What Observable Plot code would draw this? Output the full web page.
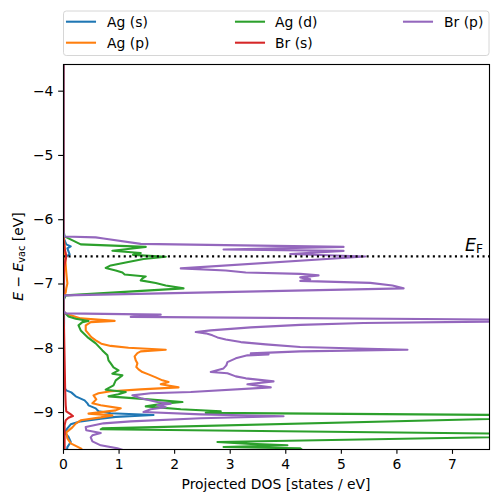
<!DOCTYPE html>
<html><head><meta charset="utf-8">
<script src="https://cdn.jsdelivr.net/npm/d3@7"></script>
<script src="https://cdn.jsdelivr.net/npm/@observablehq/plot@0.6"></script>
<style>
body{margin:0;background:#fff}
#chart{position:relative;width:498px;height:502px}
</style>
</head><body><div id="chart"></div>
<script>
// [energy (eV), projected DOS (states/eV)]
const agS = [[-3.5,0],[-6.20,0],[-6.260,0],[-6.322,0.02],[-6.384,0.05],[-6.415,0.13],[-6.446,0.07],[-6.493,0.09],[-6.540,0.11],[-6.571,0.05],[-6.633,0.02],[-6.711,0.01],[-7.100,0.01],[-7.255,0],[-7.45,0],[-7.50,0.01],[-7.60,0.01],[-8.499,0],[-8.608,0.01],[-8.655,0.05],[-8.686,0.14],[-8.748,0.22],[-8.810,0.38],[-8.857,0.43],[-8.888,0.45],[-8.935,0.58],[-8.981,0.63],[-9.012,0.85],[-9.039,1.62],[-9.067,0.94],[-9.095,0.67],[-9.137,0.31],[-9.183,0.13],[-9.246,0.07],[-9.308,0.02],[-9.381,0.09],[-9.459,0.13],[-9.537,0.07],[-9.65,0.05]];
const agP = [[-3.5,0],[-6.20,0],[-6.260,0],[-6.400,0.02],[-6.555,0.03],[-6.711,0.04],[-6.820,0.05],[-6.913,0.06],[-6.991,0.07],[-7.068,0.05],[-7.131,0.04],[-7.193,0],[-7.426,0],[-7.457,0.04],[-7.488,0.13],[-7.535,0.31],[-7.574,0.92],[-7.593,0.49],[-7.644,0.40],[-7.722,0.40],[-7.826,0.50],[-7.877,0.58],[-7.929,0.68],[-7.963,0.85],[-7.991,1.17],[-8.022,1.84],[-8.048,1.39],[-8.075,1.33],[-8.126,1.28],[-8.188,1.30],[-8.235,1.33],[-8.292,1.31],[-8.328,1.35],[-8.370,1.42],[-8.406,1.53],[-8.453,1.66],[-8.499,1.78],[-8.526,1.89],[-8.561,1.75],[-8.608,2.07],[-8.639,1.39],[-8.670,0.85],[-8.701,0.63],[-8.733,0.54],[-8.795,0.59],[-8.857,0.52],[-8.888,0.67],[-8.935,1.03],[-8.966,0.94],[-9.017,0.45],[-9.044,0.88],[-9.075,0.67],[-9.121,0.31],[-9.173,0.22],[-9.230,0.16],[-9.308,0.05],[-9.401,0.07],[-9.479,0.13],[-9.557,0.31],[-9.65,0.42]];
const agD = [[-3.5,0],[-6.166,0],[-6.260,0.02],[-6.291,0.09],[-6.337,0.20],[-6.384,0.31],[-6.423,1.48],[-6.482,0.88],[-6.519,1.39],[-6.547,1.25],[-6.575,1.84],[-6.610,1.44],[-6.664,1.12],[-6.711,0.85],[-6.750,0.76],[-6.789,0.94],[-6.820,1.06],[-6.851,1.10],[-6.882,1.48],[-6.913,1.42],[-6.944,1.39],[-6.986,1.66],[-7.022,1.84],[-7.068,2.16],[-7.177,0.04],[-7.255,0],[-7.426,0],[-7.462,0.04],[-7.504,0.09],[-7.540,0.22],[-7.577,0.45],[-7.593,0.34],[-7.644,0.27],[-7.722,0.31],[-7.826,0.43],[-7.924,0.58],[-8.033,0.70],[-8.110,0.79],[-8.188,0.81],[-8.235,0.85],[-8.297,0.90],[-8.344,0.99],[-8.395,0.88],[-8.421,1.06],[-8.499,0.94],[-8.577,0.90],[-8.644,0.76],[-8.681,1.12],[-8.717,0.99],[-8.748,0.81],[-8.779,1.30],[-8.837,2.14],[-8.857,1.84],[-8.904,1.48],[-8.950,2.11],[-8.981,2.83],[-9.005,2.56],[-9.051,10.0],[-9.246,0.70],[-9.261,0.67],[-9.347,10.0],[-9.459,2.77],[-9.487,3.37],[-9.510,4.03],[-9.537,2.88],[-9.557,4.26],[-9.65,4.4]];
const brS = [[-3.5,0],[-6.30,0],[-6.45,0.02],[-6.52,0.04],[-6.58,0.05],[-6.65,0.03],[-6.75,0.01],[-7.20,0],[-7.45,0],[-7.722,0.01],[-8.188,0.02],[-8.655,0.03],[-8.888,0.04],[-8.981,0.05],[-9.020,0.12],[-9.054,0.17],[-9.082,0.09],[-9.121,0.04],[-9.199,0.02],[-9.432,0.02],[-9.65,0.02]];
const brP = [[-3.5,0],[-6.166,0],[-6.260,0.01],[-6.275,0.58],[-6.291,0.72],[-6.376,1.39],[-6.423,5.04],[-6.462,2.88],[-6.485,5.04],[-6.532,4.08],[-6.571,5.43],[-6.757,2.11],[-6.789,2.92],[-6.820,3.28],[-6.843,4.26],[-6.866,4.59],[-6.897,4.26],[-6.928,4.44],[-6.952,4.26],[-6.983,5.52],[-7.022,5.92],[-7.068,6.12],[-7.177,0.02],[-7.255,0],[-7.426,0],[-7.457,0.04],[-7.477,1.75],[-7.512,1.21],[-7.566,9.66],[-7.608,5.40],[-7.636,4.26],[-7.675,3.37],[-7.722,2.65],[-7.748,2.38],[-7.768,2.56],[-7.799,2.68],[-7.831,2.77],[-7.862,2.92],[-7.904,3.19],[-7.939,3.64],[-7.981,4.26],[-8.022,6.19],[-8.048,4.26],[-8.079,3.37],[-8.095,3.69],[-8.110,3.31],[-8.157,3.10],[-8.215,2.95],[-8.266,2.93],[-8.313,2.88],[-8.370,2.65],[-8.390,2.95],[-8.437,3.10],[-8.468,3.28],[-8.515,3.78],[-8.561,3.31],[-8.608,3.73],[-8.681,2.29],[-8.701,1.57],[-8.733,1.24],[-8.779,1.39],[-8.837,1.69],[-8.862,1.93],[-8.888,1.69],[-8.919,1.84],[-8.950,1.57],[-8.992,1.44],[-9.028,2.47],[-9.059,3.96],[-9.090,2.47],[-9.137,1.21],[-9.168,0.72],[-9.225,0.40],[-9.277,0.41],[-9.319,0.67],[-9.355,0.52],[-9.386,0.49],[-9.448,0.52],[-9.510,0.67],[-9.557,0.97],[-9.619,1.21]];

const seriesNames = ["Ag (s)", "Ag (p)", "Ag (d)", "Br (s)", "Br (p)"];
const seriesColors = ["#1f77b4", "#ff7f0e", "#2ca02c", "#d62728", "#9467bd"];
const seriesData = [agS, agP, agD, brS, brP];
const EF = -6.57;
const xTicks = [0, 1, 2, 3, 4, 5, 6, 7];
const yTicks = [-9, -8, -7, -6, -5, -4];
const xDomain = [0, 7.666];
const yDomain = [-9.575, -3.585];
const xLabel = "Projected DOS [states / eV]";

const W = 498, H = 502, mT = 64, mB = 53, mL = 63, mR = 9;
const lw = 2.08, axw = 1.11;
const font = "'DejaVu Sans', sans-serif";

const lineMarks = seriesData.map((data, i) => Plot.line(data, {
  x: d => d[1], y: d => d[0], stroke: seriesColors[i], strokeWidth: lw,
  clip: true, strokeLinejoin: "round", strokeLinecap: "butt"
}));

const plot = Plot.plot({
  width: W, height: H,
  marginTop: mT, marginBottom: mB, marginLeft: mL, marginRight: mR,
  style: {fontFamily: font, fontSize: "13.9px", color: "#000", background: "#fff"},
  x: {domain: xDomain},
  y: {domain: yDomain},
  marks: [
    ...lineMarks,
    Plot.ruleY([EF], {stroke: "#000", strokeWidth: lw, strokeDasharray: "2.08,3.44", strokeLinecap: "butt"}),
    Plot.frame({stroke: "#000", strokeWidth: axw}),
    Plot.axisX({ticks: xTicks, tickSize: 4.86, tickPadding: 5.2, label: null, strokeWidth: axw, tickFormat: d => String(d)}),
    Plot.axisY({ticks: yTicks, tickSize: 4.86, tickPadding: 5.2, label: null, strokeWidth: axw, tickFormat: d => (d < 0 ? "\u2212" : "") + Math.abs(d)})
  ]
});
document.getElementById("chart").appendChild(plot);

const svg = d3.select(plot);
const ys = plot.scale("y");
const fx0 = mL, fx1 = W - mR, fy0 = mT, fy1 = H - mB;

// E_F label
const efY = ys.apply(EF);
svg.append("text")
  .attr("x", fx1 - 6).attr("y", efY - 4.5)
  .attr("text-anchor", "end")
  .style("font-family", font).style("font-size", "17.5px").attr("fill", "#000")
  .html('<tspan font-style="italic">E</tspan><tspan font-size="12.2px" dy="1.2">F</tspan>');

// y label
svg.append("text")
  .attr("transform", `translate(22.5,${(fy0 + fy1) / 2}) rotate(-90)`)
  .attr("text-anchor", "middle")
  .style("font-family", font).style("font-size", "13.9px").attr("fill", "#000")
  .html('<tspan font-style="italic">E</tspan> \u2212 <tspan font-style="italic">E</tspan><tspan font-size="9.7px" dy="2.5">vac</tspan><tspan dy="-2.5"> [eV]</tspan>');

// x label
svg.append("text")
  .attr("x", (fx0 + fx1) / 2).attr("y", 488.5)
  .attr("text-anchor", "middle")
  .style("font-family", font).style("font-size", "13.9px").attr("fill", "#000")
  .text(xLabel);

// legend
const lg = svg.append("g");
lg.append("rect").attr("x", 63.5).attr("y", 11).attr("width", 425.5).attr("height", 44.5)
  .attr("rx", 2.8).attr("fill", "#fff").attr("fill-opacity", 0.8).attr("stroke", "#d6d6d6").attr("stroke-width", 1);
const colX = [[67, 107], [236, 275], [404, 444]];
const rowY = [21.7, 42.7];
seriesNames.forEach((name, i) => {
  const c = Math.floor(i / 2), r = i % 2;
  const [hx, tx] = colX[c], y = rowY[r];
  lg.append("line").attr("x1", hx).attr("x2", hx + 28).attr("y1", y).attr("y2", y)
    .attr("stroke", seriesColors[i]).attr("stroke-width", lw).attr("stroke-linecap", "square");
  lg.append("text").attr("x", tx).attr("y", y + 4.9)
    .attr("text-anchor", "start")
    .style("font-family", font).style("font-size", "13.9px").attr("fill", "#000").text(name);
});
</script>
</body></html>
